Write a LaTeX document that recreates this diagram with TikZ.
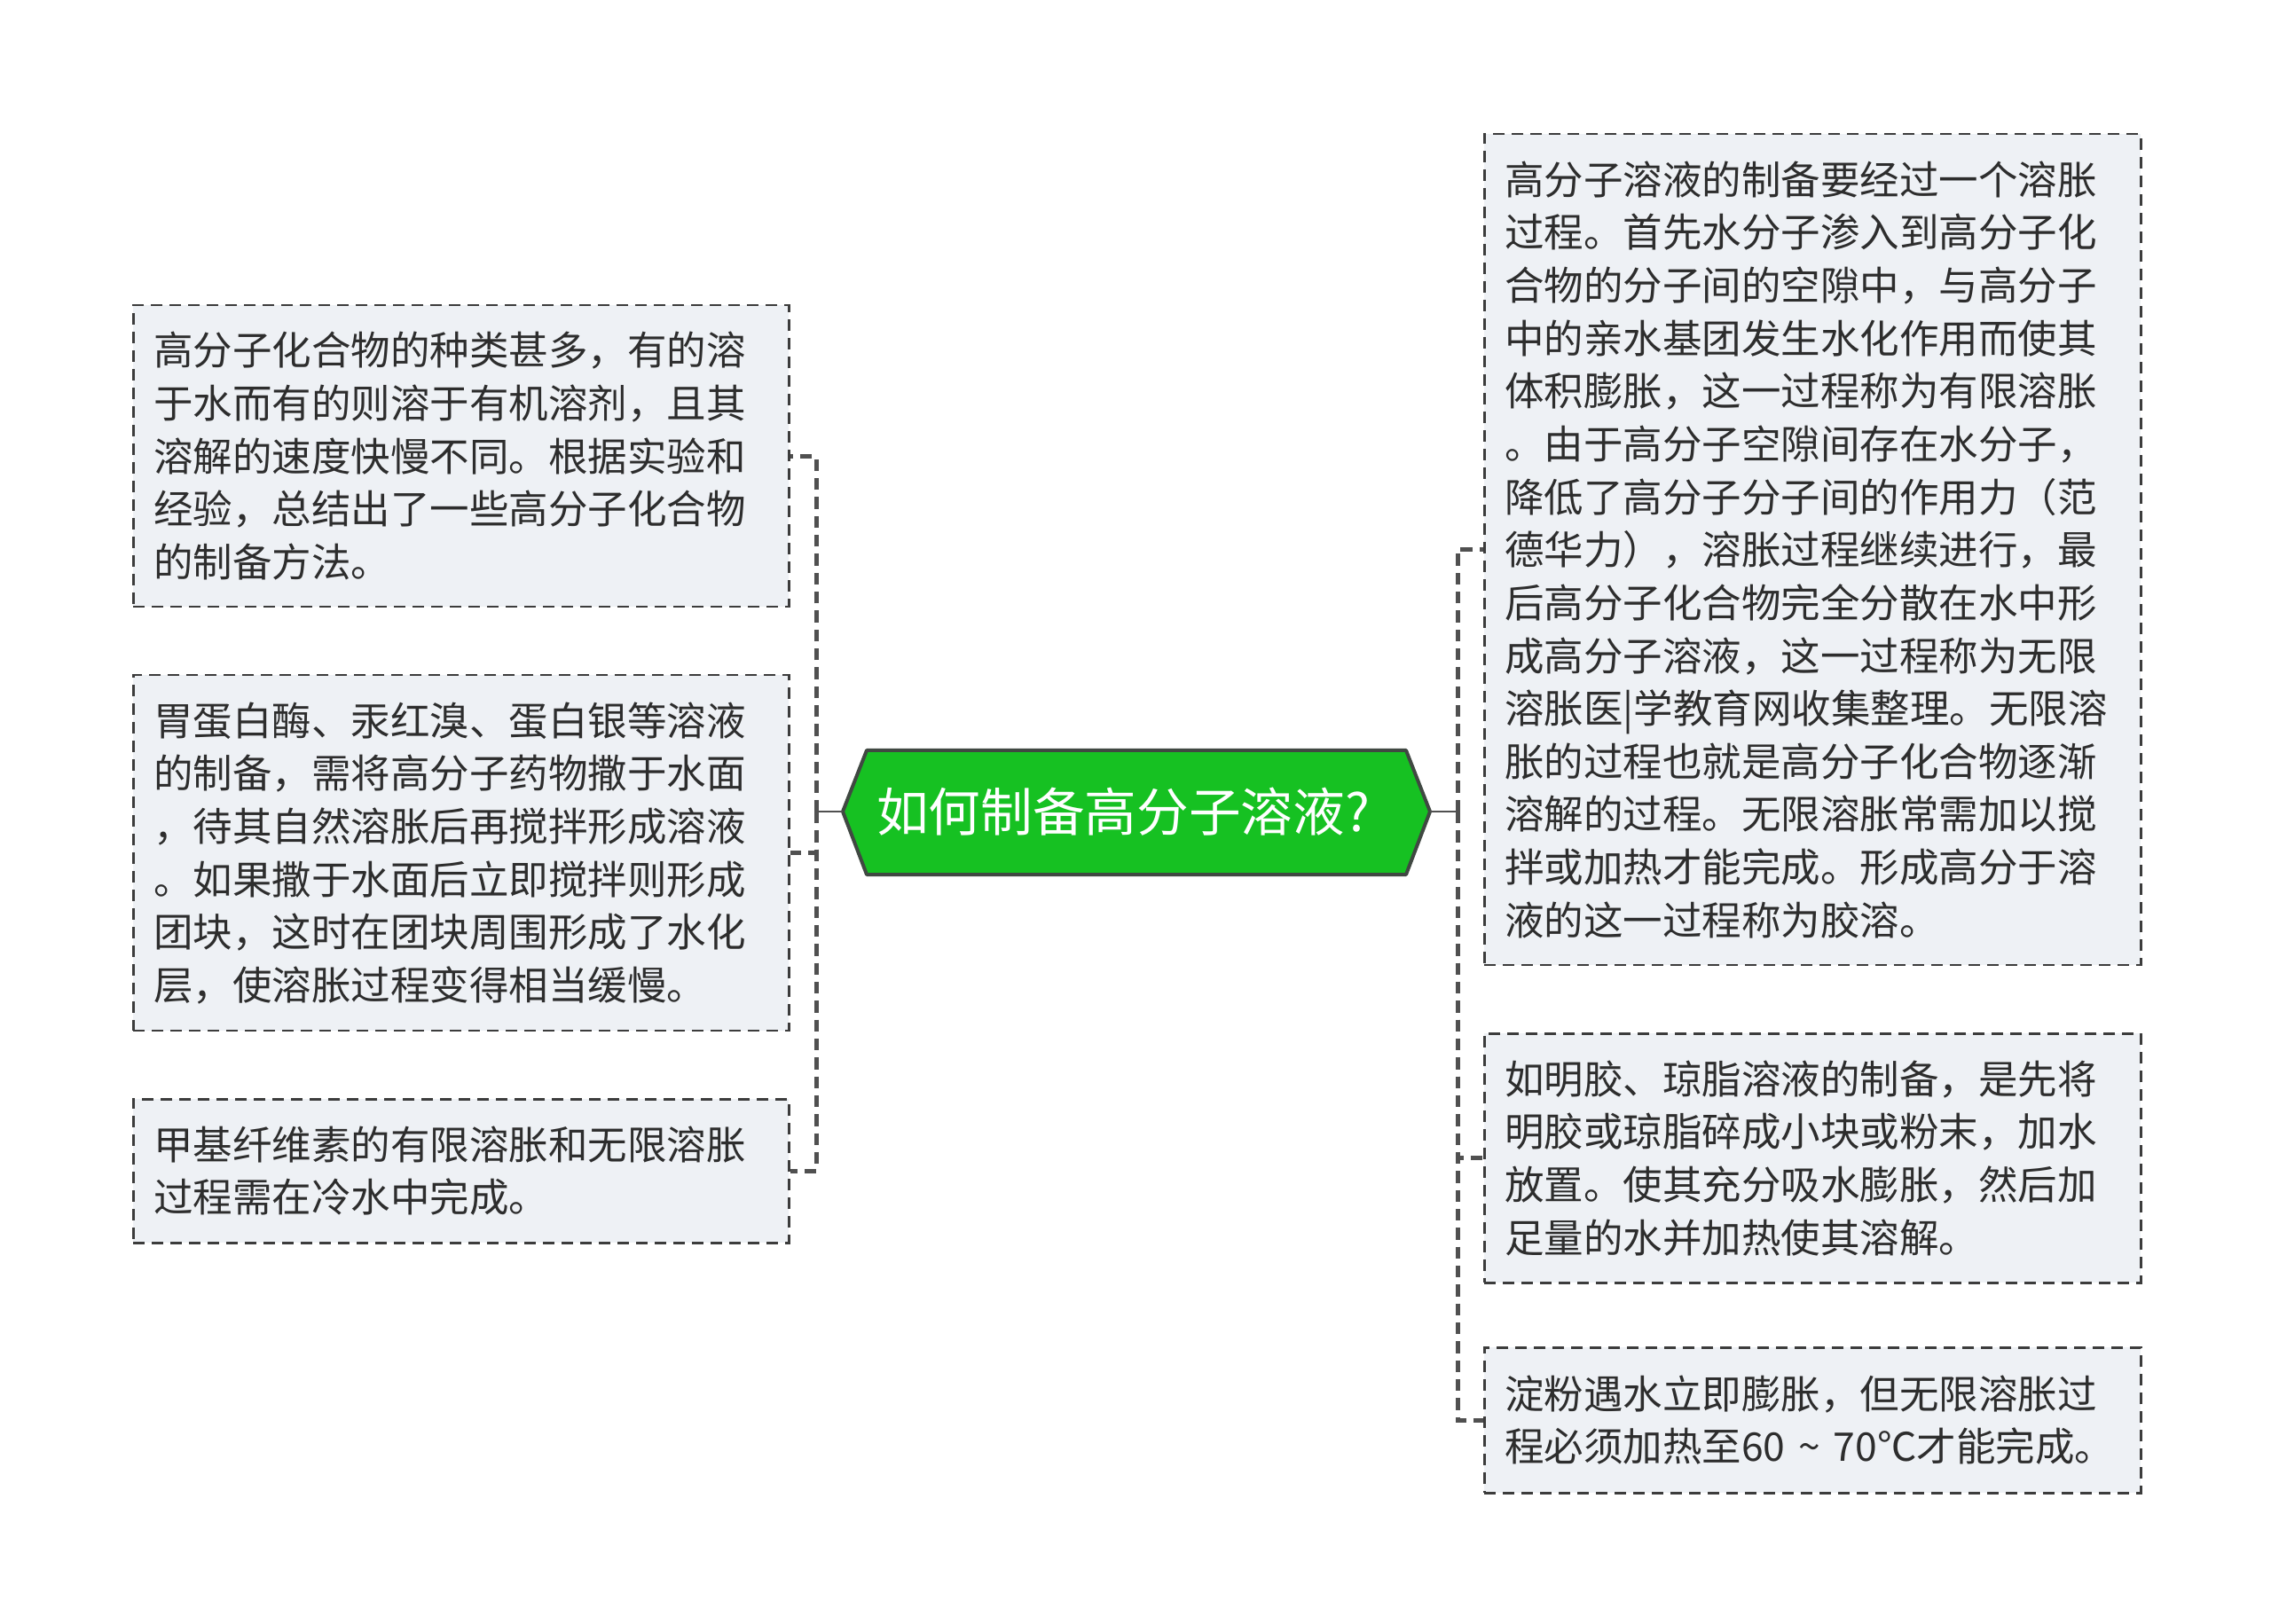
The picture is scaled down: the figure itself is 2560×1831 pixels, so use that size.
\documentclass[tikz,border=0pt]{standalone}
\usepackage{fontspec}
\newfontfamily\cjk{Noto Sans CJK SC}
\definecolor{boxfill}{RGB}{238,241,245}
\definecolor{boxline}{RGB}{60,60,60}
\definecolor{txt}{RGB}{45,45,45}
\definecolor{rootfill}{RGB}{22,193,34}
\definecolor{rootline}{RGB}{64,72,66}
\definecolor{conn}{RGB}{80,80,80}
\tikzset{
  leaf/.style={draw=boxline, fill=boxfill, line width=0.75pt, dash pattern=on 3.9pt off 2.4pt,
    anchor=north west, align=left, text=txt, inner xsep=6.9pt, inner ysep=0pt,
    text width=207.9pt, font=\cjk\fontsize{13.35}{17.9}\selectfont},
  spine/.style={draw=conn, line width=1.5pt, dash pattern=on 4pt off 2.4pt},
  stem/.style={draw=conn, line width=0.9pt},
}
\begin{document}
\begin{tikzpicture}[x=0.3pt,y=-0.3pt]
\useasboundingbox (0,0) rectangle (2560,1831);
\fill[white] (0,0) rectangle (2560,1831);
% root
\draw[fill=rootfill, draw=rootline, line width=1.2pt, line join=round]
  (950,915) -- (977,846) -- (1585,846) -- (1612,915) -- (1585,986) -- (977,986) -- cycle;
\node[inner sep=0pt, text=white,
  font=\cjk\fontsize{17.6}{20}\selectfont] (C) at (1266,915) {如何制备高分子溶液?};
\coordinate (CL) at (950,915);
\coordinate (CR) at (1612,915);
% left leaves
\node[leaf, minimum height=102pt] (L1) at (149,343) {高分子化合物的种类甚多，有的溶\\于水而有的则溶于有机溶剂，且其\\溶解的速度快慢不同。根据实验和\\经验，总结出了一些高分子化合物\\的制备方法。};
\node[leaf, minimum height=120.3pt] (L2) at (149,760) {胃蛋白酶、汞红溴、蛋白银等溶液\\的制备，需将高分子药物撒于水面\\，待其自然溶胀后再搅拌形成溶液\\。如果撒于水面后立即搅拌则形成\\团块，这时在团块周围形成了水化\\层，使溶胀过程变得相当缓慢。};
\node[leaf, minimum height=48.6pt] (L3) at (149,1238) {甲基纤维素的有限溶胀和无限溶胀\\过程需在冷水中完成。};
% right leaves
\node[leaf, minimum height=281.1pt, text width=208.2pt] (R1) at (1672,150) {高分子溶液的制备要经过一个溶胀\\过程。首先水分子渗入到高分子化\\合物的分子间的空隙中，与高分子\\中的亲水基团发生水化作用而使其\\体积膨胀，这一过程称为有限溶胀\\。由于高分子空隙间存在水分子，\\降低了高分子分子间的作用力（范\\德华力），溶胀过程继续进行，最\\后高分子化合物完全分散在水中形\\成高分子溶液，这一过程称为无限\\溶胀医|学教育网收集整理。无限溶\\胀的过程也就是高分子化合物逐渐\\溶解的过程。无限溶胀常需加以搅\\拌或加热才能完成。形成高分于溶\\液的这一过程称为胶溶。};
\node[leaf, minimum height=84.3pt, text width=208.2pt] (R2) at (1672,1164) {如明胶、琼脂溶液的制备，是先将\\明胶或琼脂碎成小块或粉末，加水\\放置。使其充分吸水膨胀，然后加\\足量的水并加热使其溶解。};
\node[leaf, minimum height=49.2pt, text width=208.2pt] (R3) at (1672,1518) {淀粉遇水立即膨胀，但无限溶胀过\\程必须加热至60 {\char"007E} 70℃才能完成。};
% connectors
\coordinate (LS) at (920,915);
\coordinate (RS) at (1643,915);
\draw[stem] (CL) -- (LS);
\draw[stem] (CR) -- (RS);
\draw[spine] (LS) |- (L1.east);
\draw[spine] (LS) |- (L2.east);
\draw[spine] (LS) |- (L3.east);
\draw[spine] (RS) |- (R1.west);
\draw[spine] (RS) |- (R2.west);
\draw[spine] (RS) |- (R3.west);
\end{tikzpicture}
\end{document}
